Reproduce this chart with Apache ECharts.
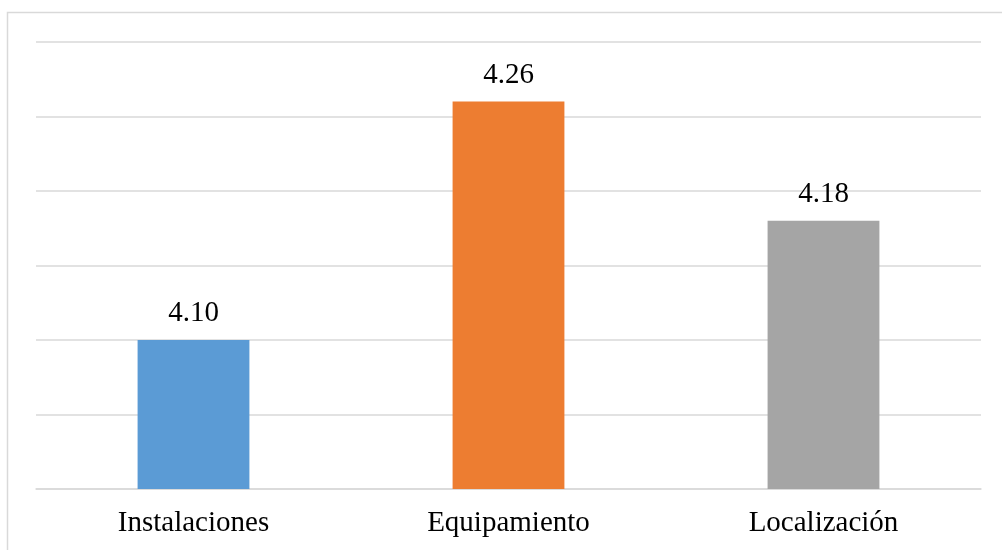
<!DOCTYPE html>
<html>
<head>
<meta charset="utf-8">
<script src="https://cdn.jsdelivr.net/npm/echarts@6/dist/echarts.min.js"></script>
<style>
  html, body { margin: 0; padding: 0; background: #ffffff; }
  #chart { width: 1002px; height: 550px; }
</style>
</head>
<body>
<div id="chart"></div>
<script>
// Average score per dimension
const categories = ['Instalaciones', 'Equipamiento', 'Localización'];
const scores = [4.10, 4.26, 4.18];
const barColors = ['#5B9BD5', '#ED7D31', '#A5A5A5'];

// Value axis range (labels hidden, gridlines shown)
const axisMin = 4.0;
const axisMax = 4.3;
const axisStep = 0.05;

const chart = echarts.init(document.getElementById('chart'), null, { renderer: 'canvas' });

const fontFamily = '"Liberation Serif", "Times New Roman", serif';

chart.setOption({
  animation: false,
  backgroundColor: '#ffffff',
  graphic: [{
    type: 'rect',
    left: 5,
    top: 10,
    shape: { width: 1100, height: 700 },
    style: { fill: 'none', stroke: '#d9d9d9', lineWidth: 1.5 },
    silent: true,
    z: -10
  }],
  grid: { left: 36, right: 21, top: 42, bottom: 61, containLabel: false },
  xAxis: {
    type: 'category',
    data: categories,
    axisTick: { show: false },
    axisLine: { show: true, lineStyle: { color: '#d9d9d9', width: 1.5 } },
    axisLabel: {
      color: '#000000',
      fontFamily: fontFamily,
      fontSize: 29,
      margin: 20
    }
  },
  yAxis: {
    type: 'value',
    min: axisMin,
    max: axisMax,
    interval: axisStep,
    axisLabel: { show: false },
    axisLine: { show: false },
    axisTick: { show: false },
    splitLine: { show: true, lineStyle: { color: '#d9d9d9', width: 1.5 } }
  },
  series: [{
    type: 'bar',
    barWidth: '35.5%',
    data: scores.map((v, i) => ({ value: v, itemStyle: { color: barColors[i] } })),
    label: {
      show: true,
      position: 'top',
      distance: 12,
      color: '#000000',
      fontFamily: fontFamily,
      fontSize: 29,
      formatter: p => p.value.toFixed(2)
    }
  }]
});
</script>
</body>
</html>
